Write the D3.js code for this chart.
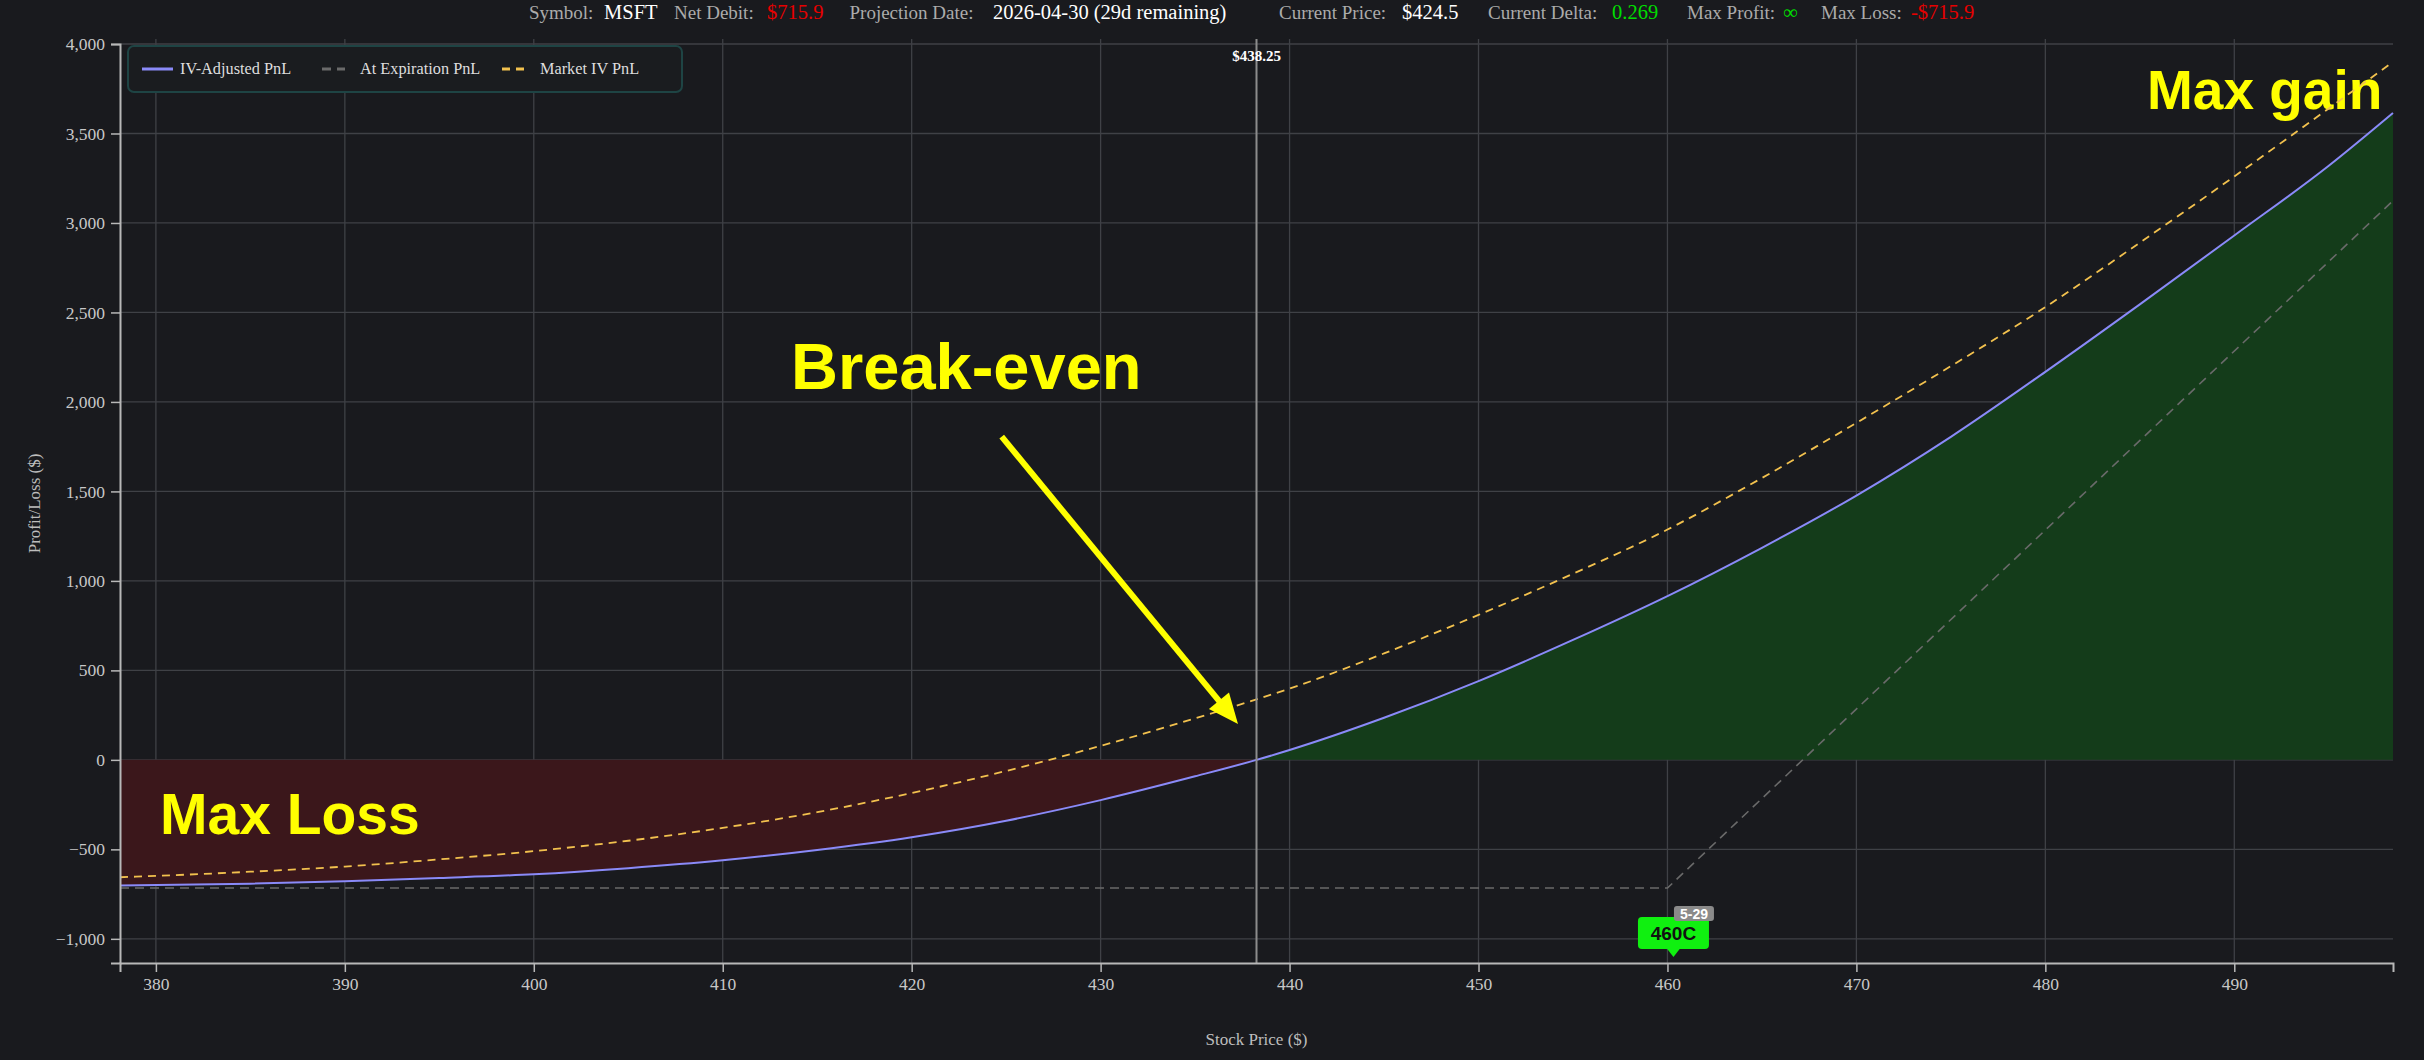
<!DOCTYPE html>
<html>
<head>
<meta charset="utf-8">
<script src="https://cdn.jsdelivr.net/npm/d3@7"></script>
<style>
  html, body { margin: 0; padding: 0; background: #191a1e; }
  svg { display: block; }
</style>
</head>
<body>
<svg id="chart" width="2424" height="1060"></svg>
<script>
// ---------------- DATA ----------------
const prices = [378.1, 385, 390, 395, 400, 405, 410, 415, 420, 425, 430, 435, 438.25,
                440, 445, 450, 455, 460, 465, 470, 475, 480, 485, 490, 495, 498.4];
const ivAdjustedPnL = [-702, -692, -678, -660, -639, -605, -561, -503, -432, -340, -225, -92, 0,
                       55, 235, 440, 670, 915, 1185, 1477, 1805, 2168, 2545, 2930, 3320, 3615];
const marketIVPnL = [-656, -625, -596, -556, -510, -452, -380, -292, -185, -62, 78, 232, 338,
                     398, 595, 810, 1040, 1287, 1575, 1883, 2200, 2530, 2890, 3260, 3640, 3900];
const expirationPrices = [378.1, 460, 498.4];
const expirationPnL = [-715.9, -715.9, 3124.1];

const xTicks = [380, 390, 400, 410, 420, 430, 440, 450, 460, 470, 480, 490];
const yTicks = [-1000, -500, 0, 500, 1000, 1500, 2000, 2500, 3000, 3500, 4000];
const xDomain = [378.1, 498.4];
const yDomain = [-1135, 4000];

const breakEven = 438.25;
const strike = 460;
const strikeLabel = "460C";
const expiryLabel = "5-29";

const headerLabels = ["Symbol:", "Net Debit:", "Projection Date:", "Current Price:", "Current Delta:", "Max Profit:", "Max Loss:"];
const headerValues = ["MSFT", "$715.9", "2026-04-30 (29d remaining)", "$424.5", "0.269", "∞", "-$715.9"];
const legendLabels = ["IV-Adjusted PnL", "At Expiration PnL", "Market IV PnL"];

// ---------------- LAYOUT ----------------
const svg = d3.select("#chart");
const W = 2424, H = 1060;
const plot = { left: 120, right: 2393, top: 44, bottom: 963 };
const C = {
  bg: "#191a1e", grid: "#3f4146", axis: "#b8b8b8", tick: "#c8c8c8",
  iv: "#8a8af8", exp: "#6a6a6a", mkt: "#f2c14e",
  loss: "#3b171b", gain: "#143c1a", yellow: "#ffff00"
};

svg.append("rect").attr("width", W).attr("height", H).attr("fill", C.bg);

const x = d3.scaleLinear().domain(xDomain).range([plot.left, plot.right]);
const y = d3.scaleLinear().domain(yDomain).range([plot.bottom, plot.top]);

// grid
const grid = svg.append("g");
grid.selectAll("line.v").data(xTicks).join("line")
  .attr("x1", d => x(d)).attr("x2", d => x(d))
  .attr("y1", 39).attr("y2", plot.bottom)
  .attr("stroke", C.grid).attr("stroke-width", 1.3);
grid.selectAll("line.h").data(yTicks).join("line")
  .attr("x1", plot.left).attr("x2", plot.right)
  .attr("y1", d => y(d)).attr("y2", d => y(d))
  .attr("stroke", C.grid).attr("stroke-width", 1.3);

// fills
const pts = prices.map((p, i) => ({ p, v: ivAdjustedPnL[i] }));
const lossPts = pts.filter(d => d.p <= breakEven);
const gainPts = pts.filter(d => d.p >= breakEven);
const area = d3.area().x(d => x(d.p)).y0(y(0)).y1(d => y(d.v)).curve(d3.curveMonotoneX);
svg.append("path").datum(lossPts).attr("d", area).attr("fill", C.loss);
svg.append("path").datum(gainPts).attr("d", area).attr("fill", C.gain);

// annotation texts (beneath the lines)
const ann = svg.append("g").attr("font-family", "Liberation Sans, Arial, sans-serif")
  .attr("font-weight", "bold").attr("fill", C.yellow);
ann.append("text").attr("x", 160).attr("y", 834).attr("font-size", 57).text("Max Loss");
ann.append("text").attr("x", 2147).attr("y", 109).attr("font-size", 55).text("Max gain");
ann.append("text").attr("x", 791).attr("y", 389).attr("font-size", 65).text("Break-even");

// lines
const line = d3.line().x(d => x(d.p)).y(d => y(d.v)).curve(d3.curveMonotoneX);
const expPts = expirationPrices.map((p, i) => ({ p, v: expirationPnL[i] }));
svg.append("path").datum(expPts).attr("d", d3.line().x(d => x(d.p)).y(d => y(d.v)))
  .attr("fill", "none").attr("stroke", C.exp).attr("stroke-width", 1.6).attr("stroke-dasharray", "9,6");
svg.append("path").datum(prices.map((p, i) => ({ p, v: marketIVPnL[i] }))).attr("d", line)
  .attr("fill", "none").attr("stroke", C.mkt).attr("stroke-width", 1.8).attr("stroke-dasharray", "8,6");
svg.append("path").datum(pts).attr("d", line)
  .attr("fill", "none").attr("stroke", C.iv).attr("stroke-width", 2);

// break-even line
svg.append("line").attr("x1", x(breakEven)).attr("x2", x(breakEven))
  .attr("y1", 39).attr("y2", plot.bottom).attr("stroke", "#8c8c8c").attr("stroke-width", 2);
svg.append("text").attr("x", x(breakEven)).attr("y", 61).attr("text-anchor", "middle")
  .attr("font-family", "Liberation Serif, serif").attr("font-weight", "bold")
  .attr("font-size", 15).attr("fill", "#ffffff").text("$" + breakEven.toFixed(2));

// axes
const xAxis = svg.append("g").attr("transform", `translate(0,${plot.bottom})`)
  .call(d3.axisBottom(x).tickValues(xTicks).tickFormat(d3.format("d")).tickSize(9).tickSizeOuter(9).tickPadding(6));
const yAxis = svg.append("g").attr("transform", `translate(${plot.left},0)`)
  .call(d3.axisLeft(y).tickValues(yTicks).tickFormat(d3.format(",")).tickSize(9).tickSizeOuter(9).tickPadding(6));
[xAxis, yAxis].forEach(g => {
  g.select(".domain").attr("stroke", C.axis).attr("stroke-width", 2);
  g.selectAll(".tick line").attr("stroke", C.axis).attr("stroke-width", 1.5);
  g.selectAll(".tick text").attr("fill", C.tick).attr("font-size", 17.5)
    .attr("font-family", "Liberation Serif, serif");
});

svg.append("text").attr("x", (plot.left + plot.right) / 2).attr("y", 1045)
  .attr("text-anchor", "middle").attr("font-family", "Liberation Serif, serif")
  .attr("font-size", 17).attr("fill", "#bdbdbd").text("Stock Price ($)");
svg.append("text").attr("transform", `translate(40,${(plot.top + plot.bottom) / 2}) rotate(-90)`)
  .attr("text-anchor", "middle").attr("font-family", "Liberation Serif, serif")
  .attr("font-size", 17).attr("fill", "#bdbdbd").text("Profit/Loss ($)");

// header
const headerLabelX = [529, 674, 849.5, 1279, 1488, 1687, 1821];
const headerValueX = [604, 767, 993, 1402, 1612, 1783, 1911];
const headerValueColors = ["#ffffff", "#e60000", "#ffffff", "#ffffff", "#00dd00", "#00dd00", "#e60000"];
const hdr = svg.append("g").attr("font-family", "Liberation Serif, serif");
hdr.selectAll("text.l").data(headerLabels).join("text")
  .attr("x", (d, i) => headerLabelX[i]).attr("y", 18.5).attr("font-size", 19)
  .attr("fill", "#ababab").text(d => d);
hdr.selectAll("text.v").data(headerValues).join("text")
  .attr("x", (d, i) => headerValueX[i]).attr("y", 18.5).attr("font-size", 20.5)
  .attr("fill", (d, i) => headerValueColors[i]).text(d => d);

// legend
const lg = svg.append("g");
lg.append("rect").attr("x", 128).attr("y", 46).attr("width", 554).attr("height", 46).attr("rx", 6)
  .attr("fill", "#1a1c1f").attr("stroke", "#1e4444").attr("stroke-width", 2);
const legendSwatchX = [142, 322, 502];
const legendTextX = [180, 360, 540];
const legendColors = [C.iv, C.exp, C.mkt];
const legendDash = [null, "9,6", "8,6"];
legendLabels.forEach((lab, i) => {
  lg.append("line").attr("x1", legendSwatchX[i]).attr("x2", legendSwatchX[i] + (i === 0 ? 31 : 23))
    .attr("y1", 69).attr("y2", 69).attr("stroke", legendColors[i]).attr("stroke-width", 3)
    .attr("stroke-dasharray", legendDash[i]);
  lg.append("text").attr("x", legendTextX[i]).attr("y", 74)
    .attr("font-family", "Liberation Serif, serif").attr("font-size", 16.3)
    .attr("fill", "#dedede").text(lab);
});

// strike marker
const mx = x(strike) + 6;
const mk = svg.append("g");
mk.append("rect").attr("x", mx - 35.5).attr("y", 917).attr("width", 71).attr("height", 32).attr("rx", 4)
  .attr("fill", "#10f010");
mk.append("path").attr("d", `M${mx - 7},948 L${mx + 7},948 L${mx},957 Z`).attr("fill", "#10f010");
mk.append("text").attr("x", mx).attr("y", 940).attr("text-anchor", "middle")
  .attr("font-family", "Liberation Sans, Arial, sans-serif").attr("font-weight", "bold")
  .attr("font-size", 19).attr("fill", "#111").text(strikeLabel);
mk.append("rect").attr("x", mx + 0.5).attr("y", 906).attr("width", 40).attr("height", 15).attr("rx", 3)
  .attr("fill", "#8a8a8a");
mk.append("text").attr("x", mx + 20.5).attr("y", 918.5).attr("text-anchor", "middle")
  .attr("font-family", "Liberation Sans, Arial, sans-serif").attr("font-weight", "bold")
  .attr("font-size", 14).attr("fill", "#ffffff").text(expiryLabel);

// arrow
const a0 = [1001.7, 436.7], a1 = [1238, 724];
const dx = a1[0] - a0[0], dy = a1[1] - a0[1], len = Math.hypot(dx, dy);
const ux = dx / len, uy = dy / len, hl = 30, hw = 13;
const bx = a1[0] - ux * hl, by = a1[1] - uy * hl;
svg.append("line").attr("x1", a0[0]).attr("y1", a0[1]).attr("x2", bx + ux * 4).attr("y2", by + uy * 4)
  .attr("stroke", C.yellow).attr("stroke-width", 6);
svg.append("path")
  .attr("d", `M${a1[0]},${a1[1]} L${bx - uy * hw},${by + ux * hw} L${bx + uy * hw},${by - ux * hw} Z`)
  .attr("fill", C.yellow);
</script>
</body>
</html>
